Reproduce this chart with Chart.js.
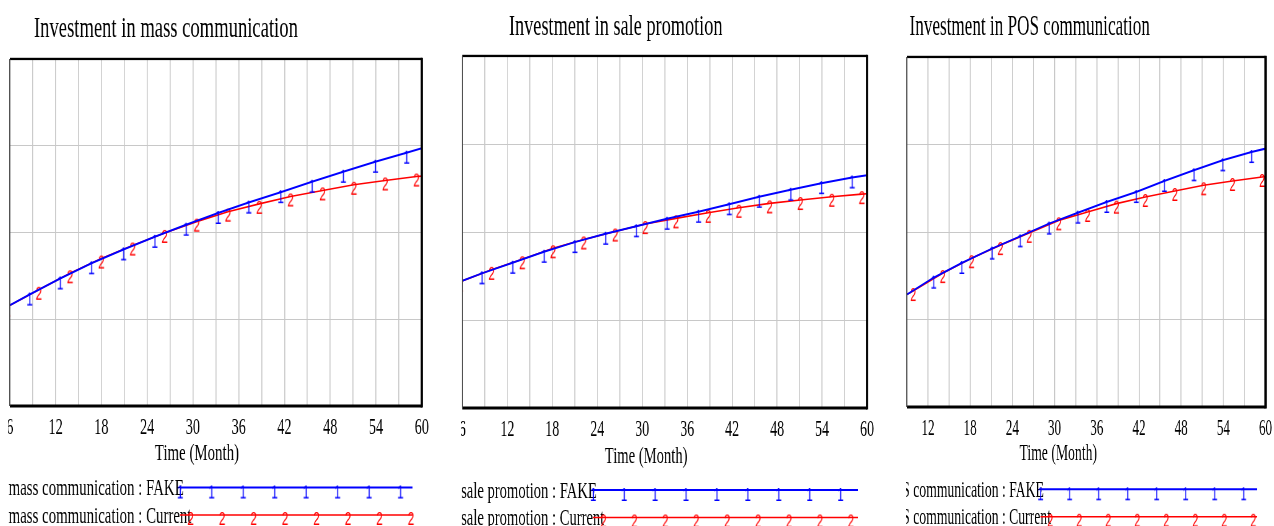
<!DOCTYPE html>
<html>
<head>
<meta charset="utf-8">
<script src="https://cdn.jsdelivr.net/npm/chart.js"></script>
<style>
  html, body { margin: 0; padding: 0; background: #ffffff; }
  body { width: 1274px; height: 526px; position: relative; overflow: hidden; }
  .clip { position: absolute; top: 0; height: 526px; overflow: hidden; }
  .inner { position: absolute; top: 0; transform-origin: 0 0; }
  canvas { display: block; }
</style>
</head>
<body>
<script>
// ---- Data (Time in months, values in model units) ----
const titles = ['Investment in mass communication', 'Investment in sale promotion', 'Investment in POS communication'];
const variableNames = ['mass communication', 'sale promotion', 'POS communication'];
const runNames = ['FAKE', 'Current'];
const timeMax = 60;
const timeLabelStep = 6;   // labelled ticks
const timeGridStep = 3;    // vertical grid lines
const valueMax = 400;
const valueGridStep = 100;

// Investment in mass communication
const massMonthsFake = [6, 8.6, 12.6, 16.7, 20.9, 25, 29.1, 33.3, 37.3, 41.5, 45.6, 49.7, 53.9, 58, 60];
const massFake = [116, 128.5, 147, 164.5, 180.5, 195, 209, 222.5, 234.5, 246.5, 258.5, 270, 281.5, 292, 297];
const massMonthsCurrent = [5.7, 9.8, 13.9, 18, 22.1, 26.3, 30.5, 34.6, 38.7, 42.8, 47, 51.1, 55.2, 59.3, 60];
const massCurrent = [114.5, 134, 153, 170, 185, 199.5, 212.5, 224, 233, 241.5, 248.5, 255, 260, 264.5, 265];

// Investment in sale promotion
const saleMonthsFake = [6, 8.6, 12.7, 16.9, 21, 25.1, 29.2, 33.3, 37.5, 41.6, 45.6, 49.8, 53.9, 58, 60];
const saleFake = [144.5, 153, 165, 177.5, 188.5, 198, 206.5, 215, 223, 231.5, 240, 248, 255.5, 262, 264.5];
const saleMonthsCurrent = [5.7, 9.9, 14, 18.1, 22.2, 26.4, 30.4, 34.5, 38.8, 42.9, 47, 51.1, 55.3, 59.3, 60];
const saleCurrent = [143.5, 157, 169, 181.5, 191.5, 200.5, 209, 215.5, 221.8, 227.5, 232.5, 236.3, 240, 243, 243.5];

// Investment in POS communication
const posMonthsFake = [9, 12.8, 16.8, 21.1, 25.1, 29.2, 33.3, 37.4, 41.6, 45.6, 49.8, 53.9, 58, 60];
const posFake = [128.5, 147.8, 164.6, 181, 195, 209.6, 222.1, 234.3, 245.7, 258.3, 270.5, 281.9, 291.4, 295.3];
const posMonthsCurrent = [9, 9.9, 14.1, 18.2, 22.3, 26.4, 30.6, 34.7, 38.8, 42.9, 47.1, 51.2, 55.3, 59.5, 60];
const posCurrent = [128.5, 132.5, 153, 170, 185, 199, 213.3, 222.9, 232.4, 240, 246.9, 253.4, 258.3, 262.9, 263.5];

// ---- Panel geometry (page pixels) ----
const panels = [
  { title: titles[0], name: variableNames[0], fake: [massMonthsFake, massFake], current: [massMonthsCurrent, massCurrent],
    xMin: 6, clipL: 8, clipR: 452, plotL: 10, plotR: 422, top: 59, bottom: 406, titleY: 37, axisTitleY: 460, legendY: 487.5 },
  { title: titles[1], name: variableNames[1], fake: [saleMonthsFake, saleFake], current: [saleMonthsCurrent, saleCurrent],
    xMin: 6, clipL: 461, clipR: 895, plotL: 462, plotR: 866.7, top: 56, bottom: 408, titleY: 34.5, axisTitleY: 463, legendY: 490 },
  { title: titles[2], name: variableNames[2], fake: [posMonthsFake, posFake], current: [posMonthsCurrent, posCurrent],
    xMin: 9, clipL: 906, clipR: 1274, plotL: 907, plotR: 1265.7, top: 57, bottom: 407, titleY: 35, axisTitleY: 460, legendY: 489.3 }
];

const PX_PER_MONTH = 665 / 54;  // unsqueezed plot width per month
const PAD_L = 40, PAD_R = 40;
const BLUE = '#0000ff', RED = '#ff0000', GRID = '#c8c8c8';
const SERIF = '"Liberation Serif", "Times New Roman", serif';

// Numbered run markers ("1" and "2") drawn as point images
function makeGlyph(ch, color, below, size) {
  const c = document.createElement('canvas');
  c.width = 16; c.height = 44;
  const g = c.getContext('2d');
  g.font = size + 'px "Liberation Sans", Arial, sans-serif';
  g.fillStyle = color;
  g.textAlign = 'center';
  g.textBaseline = 'alphabetic';
  const top = 22 - below;
  g.fillText(ch, 8, top + size * 0.716);
  return c;
}
const glyphFake = makeGlyph('1', BLUE, 2.5, 19);
const glyphCurrent = makeGlyph('2', RED, 4, 19);

function toXY(months, values) {
  return months.map((m, i) => ({ x: m, y: values[i] }));
}

function decorPlugin(cfg, s) {
  return {
    id: 'decor',
    afterDatasetsDraw(chart) {
      const { ctx, chartArea: a } = chart;
      ctx.save();
      ctx.fillStyle = '#000000';
      ctx.fillRect(a.left, a.top - 1.2, a.right - a.left, 2.3);
      ctx.fillRect(a.left, a.bottom - 1.5, a.right - a.left, 3);
      const wr = 2.3 / s;
      ctx.fillRect(a.right - wr / 2, a.top - 1.2, wr, a.bottom - a.top + 2.7);
      ctx.fillStyle = '#444444';
      const wl = 1.1 / s;
      ctx.fillRect(a.left - wl / 2, a.top, wl, a.bottom - a.top);
      ctx.restore();
    },
    afterDraw(chart) {
      const { ctx } = chart;
      const xs = chart.scales.x;
      const x6 = xs.getPixelForValue(6);
      ctx.save();
      ctx.fillStyle = '#000000';
      ctx.textBaseline = 'alphabetic';
      // title
      ctx.font = '30px ' + SERIF;
      ctx.textAlign = 'center';
      ctx.fillText(cfg.title, x6 + 252, cfg.titleY);
      // axis title
      ctx.font = '24px ' + SERIF;
      ctx.fillText('Time (Month)', x6 + 302, cfg.axisTitleY);
      // legend
      ctx.textAlign = 'left';
      const ds = chart.data.datasets;
      const tx = x6 - 2;
      const lineStart = tx + ctx.measureText(ds[0].label).width - 6;
      const lineEnd = x6 + 650;
      const glyphs = [glyphFake, glyphCurrent];
      const offsets = [0, 17];
      ds.forEach((d, i) => {
        const y = cfg.legendY + i * 27.5;
        ctx.fillStyle = '#000000';
        ctx.fillText(d.label, tx, y + 7.5);
        ctx.strokeStyle = d.borderColor;
        ctx.lineWidth = d.borderWidth;
        ctx.beginPath();
        ctx.moveTo(lineStart, y);
        ctx.lineTo(lineEnd, y);
        ctx.stroke();
        for (let gx = lineStart + offsets[i]; gx <= lineEnd + 5; gx += 50.8) {
          ctx.drawImage(glyphs[i], gx - 8, y - 22);
        }
      });
      ctx.restore();
    }
  };
}

panels.forEach((cfg, idx) => {
  const plotW = (timeMax - cfg.xMin) * PX_PER_MONTH;
  const width = Math.ceil(PAD_L + plotW + PAD_R);
  const padR = width - PAD_L - plotW;
  const s = (cfg.plotR - cfg.plotL) / plotW;

  const clip = document.createElement('div');
  clip.className = 'clip';
  clip.style.left = cfg.clipL + 'px';
  clip.style.width = (cfg.clipR - cfg.clipL) + 'px';
  const inner = document.createElement('div');
  inner.className = 'inner';
  inner.style.left = (cfg.plotL - PAD_L * s - cfg.clipL) + 'px';
  inner.style.width = width + 'px';
  inner.style.height = '526px';
  inner.style.transform = 'scaleX(' + s + ')';
  const canvas = document.createElement('canvas');
  canvas.id = 'chart' + (idx + 1);
  canvas.width = width;
  canvas.height = 526;
  inner.appendChild(canvas);
  clip.appendChild(inner);
  document.body.appendChild(clip);

  const glyphRadius = (c) => (c.raw && (c.raw.x === cfg.xMin || c.raw.x === timeMax)) ? 0 : 8;

  new Chart(canvas, {
    type: 'line',
    data: {
      datasets: [
        { label: cfg.name + ' : ' + runNames[0], data: toXY(cfg.fake[0], cfg.fake[1]),
          borderColor: BLUE, backgroundColor: BLUE, borderWidth: 2, pointStyle: glyphFake,
          pointRadius: glyphRadius, tension: 0, fill: false },
        { label: cfg.name + ' : ' + runNames[1], data: toXY(cfg.current[0], cfg.current[1]),
          borderColor: RED, backgroundColor: RED, borderWidth: 1.6, pointStyle: glyphCurrent,
          pointRadius: glyphRadius, tension: 0, fill: false }
      ]
    },
    options: {
      responsive: false,
      animation: false,
      events: [],
      devicePixelRatio: 1,
      layout: { padding: { left: PAD_L, right: padR, top: cfg.top, bottom: 0 } },
      plugins: { legend: { display: false }, title: { display: false }, tooltip: { enabled: false } },
      scales: {
        x: {
          type: 'linear', min: cfg.xMin, max: timeMax,
          afterFit: (sc) => { sc.height = 526 - cfg.bottom; },
          ticks: {
            stepSize: timeGridStep, autoSkip: false, maxRotation: 0, minRotation: 0, padding: 8,
            color: '#000000', font: { family: SERIF, size: 23 },
            callback: (v) => (v % timeLabelStep === 0 ? String(v) : '')
          },
          grid: { color: GRID, lineWidth: 1 / s, drawTicks: false },
          border: { display: false }
        },
        y: {
          min: 0, max: valueMax,
          afterFit: (sc) => { sc.width = 0; },
          ticks: { display: false, stepSize: valueGridStep },
          grid: { color: GRID, lineWidth: 1, drawTicks: false },
          border: { display: false }
        }
      }
    },
    plugins: [decorPlugin(cfg, s)]
  });
});
</script>
</body>
</html>
